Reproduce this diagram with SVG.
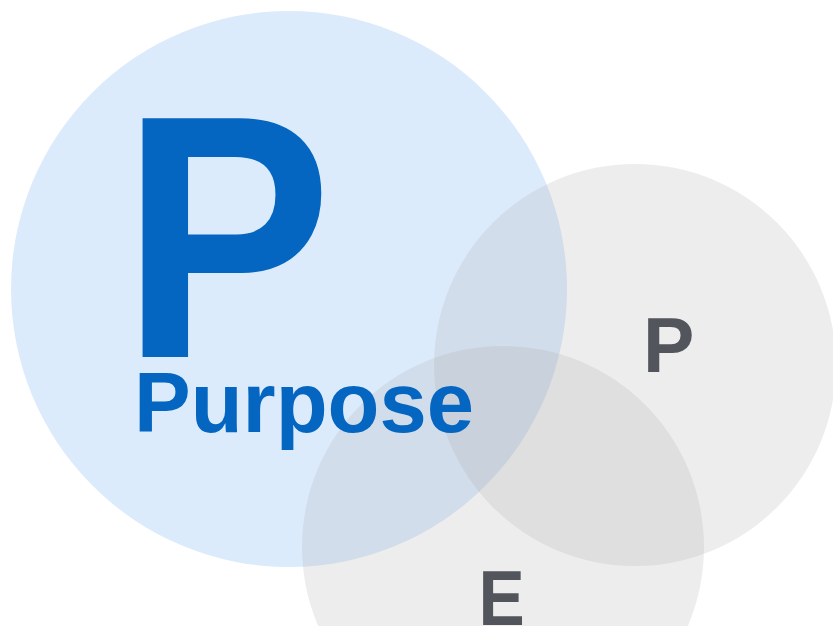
<svg xmlns="http://www.w3.org/2000/svg" width="833" height="626" viewBox="0 0 833 626">
<style>
.lbl{font-family:"Liberation Sans",Arial,sans-serif;font-weight:bold}
.blue{fill:#0466c0}
.gray{fill:#52565c}
.gc{fill:#aeaeae;fill-opacity:0.22}
</style>
<rect width="833" height="626" fill="#ffffff"/>
<g id="purpose-circle">
<circle cx="289" cy="289" r="278" fill="#dcebfb"/>
</g>
<g id="p-circle">
<circle class="gc" cx="635" cy="365" r="201"/>
</g>
<g id="e-circle">
<circle class="gc" cx="503" cy="547" r="201"/>
</g>
<g id="purpose-label">
<text class="lbl blue" transform="translate(136,357) scale(0.91,1)" x="-16" y="0" font-size="347">P</text>
<text class="lbl blue" x="134" y="432" font-size="86" textLength="340" lengthAdjust="spacingAndGlyphs">Purpose</text>
</g>
<g id="p-label">
<text class="lbl gray" x="643" y="372" font-size="77">P</text>
</g>
<g id="e-label">
<text class="lbl gray" transform="translate(484,625) scale(0.9,1)" x="-6" y="0" font-size="77">E</text>
</g>
<g id="connectors"/>
</svg>
